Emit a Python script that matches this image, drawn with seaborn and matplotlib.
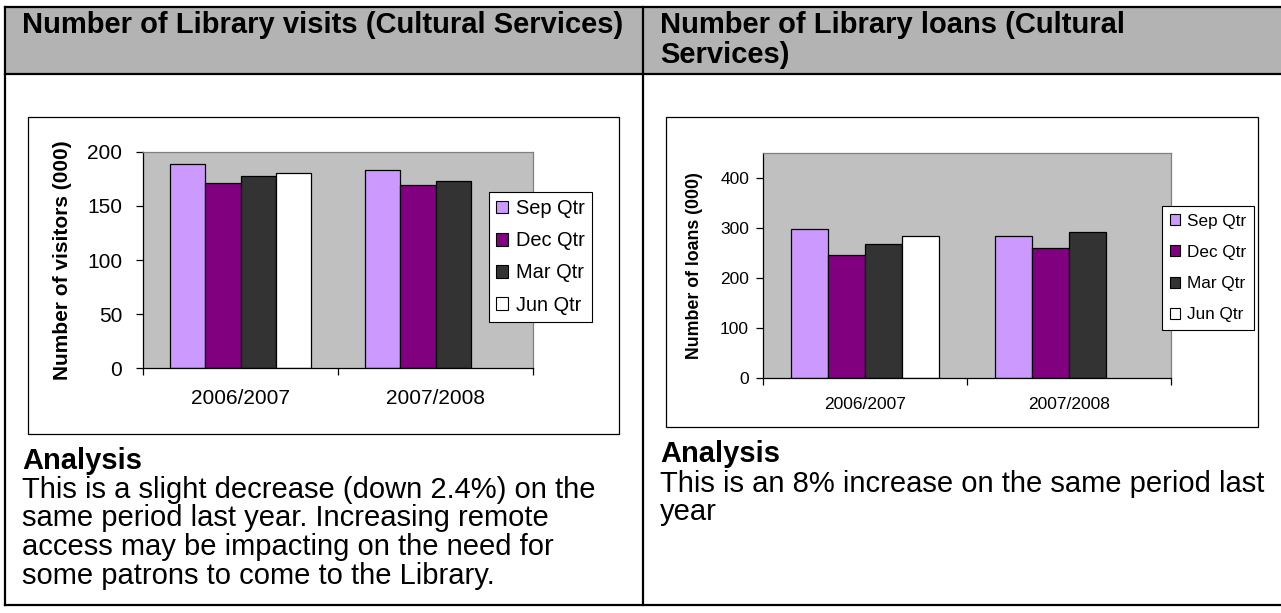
import matplotlib
matplotlib.use("Agg")
import matplotlib.pyplot as plt
from matplotlib.patches import Rectangle, Patch
from matplotlib.lines import Line2D
import pandas as pd
import seaborn as sns

# ---- data -------------------------------------------------------------
years = ["2006/2007", "2007/2008"]
quarters = ["Sep Qtr", "Dec Qtr", "Mar Qtr", "Jun Qtr"]
quarter_colors = ["#CC99FF", "#800080", "#333333", "#FFFFFF"]

visits_2006_07 = [189, 171, 178, 181]
visits_2007_08 = [183, 169, 173]          # Jun quarter not yet reported
loans_2006_07 = [299, 246, 269, 285]
loans_2007_08 = [285, 260, 292]           # Jun quarter not yet reported

visits_ticks = [0, 50, 100, 150, 200]
loans_ticks = [0, 100, 200, 300, 400]

visits_title = ["Number of Library visits (Cultural Services)"]
loans_title = ["Number of Library loans (Cultural", "Services)"]
visits_ylabel = "Number of visitors (000)"
loans_ylabel = "Number of loans (000)"
analysis_heading = "Analysis"
visits_analysis = [
    "This is a slight decrease (down 2.4%) on the",
    "same period last year. Increasing remote",
    "access may be impacting on the need for",
    "some patrons to come to the Library.",
]
loans_analysis = [
    "This is an 8% increase on the same period last",
    "year",
]


def long_table(first, second):
    rows = [(years[0], q, v) for q, v in zip(quarters, first)]
    rows += [(years[1], q, v) for q, v in zip(quarters, second)]
    return pd.DataFrame(rows, columns=["year", "quarter", "value"])


visits = long_table(visits_2006_07, visits_2007_08)
loans = long_table(loans_2006_07, loans_2007_08)

# ---- style ------------------------------------------------------------
sns.set_theme(style="white")
plt.rcParams["font.family"] = ["Liberation Sans", "DejaVu Sans"]
for key in ("text.color", "axes.labelcolor", "xtick.color", "ytick.color"):
    plt.rcParams[key] = "black"

W, H = 1281, 613
fig = plt.figure(figsize=(W / 100, H / 100), dpi=100)
fig.patch.set_facecolor("white")

# page layer in pixel coordinates (y grows downward)
page = fig.add_axes([0, 0, 1, 1], zorder=0)
page.set_xlim(0, W)
page.set_ylim(H, 0)
page.axis("off")


def px_axes(x0, y0, x1, y1):
    return fig.add_axes([x0 / W, 1 - y1 / H, (x1 - x0) / W, (y1 - y0) / H], zorder=2)


# ---- table ------------------------------------------------------------
TL, TT, TB, HB, COL = 5, 7, 605, 74, 643
page.add_patch(Rectangle((TL, TT), W - TL + 2, HB - TT, facecolor="#B3B3B3",
                         edgecolor="none", zorder=0))
border = dict(color="black", lw=1.6, solid_capstyle="projecting", zorder=1)
page.add_line(Line2D([TL, W + 2], [TT, TT], **border))
page.add_line(Line2D([TL, W + 2], [HB, HB], **border))
page.add_line(Line2D([TL, W + 2], [TB, TB], **border))
page.add_line(Line2D([TL, TL], [TT, TB], **border))
page.add_line(Line2D([COL, COL], [TT, TB], **border))

HEAD_FS, BODY_FS = 21, 21

# headings
for i, line in enumerate(visits_title):
    page.text(22, 33 + 30 * i, line, fontsize=HEAD_FS, fontweight="bold", va="baseline")
for i, line in enumerate(loans_title):
    page.text(660, 33 + 30 * i, line, fontsize=HEAD_FS, fontweight="bold", va="baseline")

# analysis text
page.text(22, 469, analysis_heading, fontsize=BODY_FS, fontweight="bold", va="baseline")
for i, line in enumerate(visits_analysis):
    page.text(22, 498 + 28.5 * i, line, fontsize=BODY_FS, va="baseline")
page.text(660, 462, analysis_heading, fontsize=BODY_FS, fontweight="bold", va="baseline")
for i, line in enumerate(loans_analysis):
    page.text(660, 492 + 28.5 * i, line, fontsize=BODY_FS, va="baseline")

# chart frames
page.add_patch(Rectangle((28, 117), 591, 317, facecolor="white", edgecolor="black",
                         lw=0.9, zorder=1))
page.add_patch(Rectangle((666, 117), 592, 310, facecolor="white", edgecolor="black",
                         lw=0.9, zorder=1))


def draw_chart(ax, data, ymax, ticks, ylabel, fs_tick, fs_ylab, fs_leg,
               xpad, ypad, ylab_x, leg_xy, leg_kw):
    palette = dict(zip(quarters, quarter_colors))
    sns.barplot(data=data, x="year", y="value", hue="quarter", order=years,
                hue_order=quarters, palette=palette, width=4 / 5.5, saturation=1,
                edgecolor="black", linewidth=0.9, errorbar=None, legend=False, ax=ax)
    ax.set_facecolor("#C0C0C0")
    ax.set_xlim(-0.5, 1.5)
    ax.set_ylim(0, ymax)
    ax.set_yticks(ticks)
    ax.set_xlabel("")
    ax.set_ylabel(ylabel, fontsize=fs_ylab, fontweight="bold")
    ax.yaxis.set_label_coords(ylab_x, 0.5)
    for s in ax.spines.values():
        s.set_color("#808080")
        s.set_linewidth(0.9)
    for s in ("left", "bottom"):
        ax.spines[s].set_color("black")
    ax.tick_params(axis="y", direction="out", length=5, width=0.9, color="black",
                   labelsize=fs_tick, pad=ypad, left=True)
    ax.tick_params(axis="x", which="major", length=0, labelsize=fs_tick, pad=xpad,
                   bottom=True)
    ax.set_xticks([-0.5, 0.5, 1.5], minor=True)
    ax.tick_params(axis="x", which="minor", direction="out", length=5, width=0.9,
                   color="black", bottom=True)
    handles = [Patch(facecolor=c, edgecolor="black", linewidth=0.8, label=q)
               for q, c in zip(quarters, quarter_colors)]
    leg = ax.legend(handles=handles, loc="upper left",
                    bbox_to_anchor=(leg_xy[0] / W, 1 - leg_xy[1] / H),
                    bbox_transform=fig.transFigure, fontsize=fs_leg, frameon=True,
                    fancybox=False, framealpha=1, edgecolor="black",
                    handlelength=0.6, handleheight=0.6, borderaxespad=0, **leg_kw)
    leg.get_frame().set_linewidth(0.8)


ax1 = px_axes(143, 152, 533, 368)
draw_chart(ax1, visits, 200, visits_ticks, visits_ylabel, fs_tick=15, fs_ylab=15,
           fs_leg=14.4, xpad=15, ypad=10, ylab_x=-0.182, leg_xy=(489, 192),
           leg_kw=dict(borderpad=0.35, labelspacing=0.66, handletextpad=0.4))

ax2 = px_axes(763, 153, 1171, 378)
draw_chart(ax2, loans, 450, loans_ticks, loans_ylabel, fs_tick=12.5, fs_ylab=12.8,
           fs_leg=12.3, xpad=14, ypad=5, ylab_x=-0.147, leg_xy=(1162, 206),
           leg_kw=dict(borderpad=0.45, labelspacing=0.95, handletextpad=0.4))

fig.savefig("out.png", dpi=100, facecolor="white")
